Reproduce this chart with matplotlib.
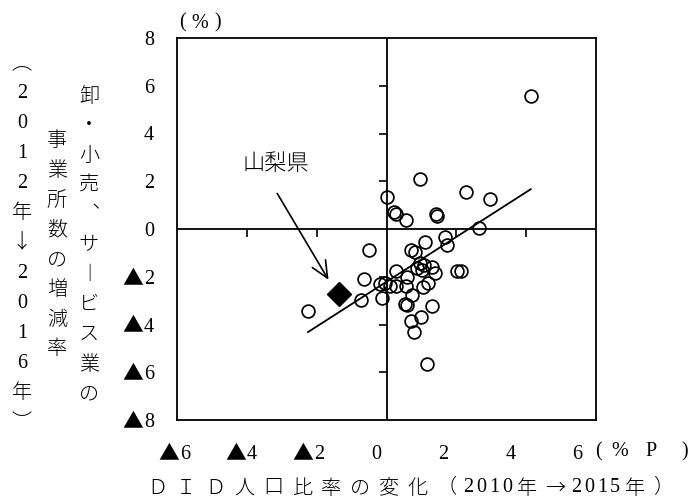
import numpy as np
import matplotlib
matplotlib.use("Agg")
import matplotlib.pyplot as plt
import matplotlib.transforms as mtrans

# ---------------- data ----------------
did_change = [0.96, 2.28, 2.95, 0.00, 0.21, 0.26, 0.56, 1.42, 1.45, 2.65, 4.13,
              -2.25, -0.50, -0.65, -0.74, -0.14, -0.20, -0.03, 0.10, 0.28, 0.27, 0.60, 0.72,
              0.69, 0.83, 1.10, 1.67, 1.72, 0.97, 1.07, 0.88, 1.02, 1.31, 1.40, 2.02, 2.12,
              1.05, 1.18, 0.54, 0.59, 1.30, 0.99, 0.69, 0.78, 1.17, 0.55]
estab_change = [2.08, 1.56, 1.24, 1.33, 0.72, 0.61, 0.38, 0.61, 0.54, 0.03, 5.56,
                -3.42, -0.88, -2.08, -2.97, -2.88, -2.30, -2.26, -2.39, -2.38, -1.75, -2.02, -2.75,
                -0.90, -0.97, -0.54, -0.32, -0.65, -1.44, -1.51, -1.65, -1.72, -1.58, -1.83, -1.74, -1.74,
                -2.42, -2.25, -3.14, -3.18, -3.22, -3.67, -3.85, -4.30, -5.66, -2.38]
yamanashi_x = [-1.35]
yamanashi_y = [-2.72]

x_tick_values = [-6, -4, -2, 0, 2, 4, 6]
y_tick_values = [-8, -6, -4, -2, 0, 2, 4, 6, 8]
inner_y_ticks = [-6, -4, -2, 2, 4, 6]
inner_x_ticks = [-4, -2, 2, 4]

# ---------------- figure ----------------
W, H = 697, 501
fig = plt.figure(figsize=(W / 100, H / 100), dpi=100)
ax = fig.add_axes([177 / W, 81 / H, 419 / W, 382 / H])
ax.set_xlim(-6, 6)
ax.set_ylim(-8, 8)
ax.set_xticks([])
ax.set_yticks([])

SERIF = ["Liberation Serif", "Noto Sans CJK JP", "DejaVu Sans"]
CJK = ["Noto Sans CJK JP", "DejaVu Sans"]
FS = 14.5
CJK_W = "light"

for s in ax.spines.values():
    s.set_linewidth(1.3)
    s.set_color("black")

ax.axhline(0, color="black", lw=1.3, zorder=1)
ax.axvline(0, color="black", lw=1.3, zorder=1)

# small tick marks on the inner cross
ax.plot(np.zeros(len(inner_y_ticks)), inner_y_ticks, ls="none", marker=0,
        ms=6, mew=1.2, color="black", zorder=1)
ax.plot(inner_x_ticks, np.zeros(len(inner_x_ticks)), ls="none", marker=3,
        ms=6, mew=1.2, color="black", zorder=1)

# regression line
xarr = np.array(did_change)
yarr = np.array(estab_change)
slope, intercept = np.polyfit(xarr, yarr, 1)
lx = np.array([xarr.min(), xarr.max()])
ax.plot(lx, slope * lx + intercept, color="black", lw=1.3, zorder=2)

# points
ax.plot(did_change, estab_change, ls="none", marker="o", ms=9.2, mfc="none",
        mec="black", mew=1.25, zorder=3)
ax.plot(yamanashi_x, yamanashi_y, ls="none", marker="D", ms=12, mfc="black",
        mec="black", zorder=4)

# annotation
ax.text(-3.17, 2.72, "山梨県", family=CJK, fontsize=16, weight=CJK_W,
        ha="center", va="center")
ax.annotate("", xy=(-1.66, -2.13), xytext=(-3.13, 1.49),
            arrowprops=dict(arrowstyle="->,head_length=0.55,head_width=0.25",
                            lw=1.2, color="black", mutation_scale=22,
                            shrinkA=0, shrinkB=0))

IDT = mtrans.IdentityTransform()
fig.canvas.draw()  # make sure transforms are settled


def disp_text(xd, yd, s, family, fs=FS, ha="center", va="center", weight="normal"):
    fig.text(xd, yd, s, transform=IDT, family=family, fontsize=fs,
             ha=ha, va=va, weight=weight)


def tick_label(v, xd, yc, mode):
    """Draw a tick label: negative values use a large ▲ before the digit."""
    digit = str(abs(v))
    base = yc - 7
    if mode == "y":
        disp_text(xd, base, digit, SERIF, ha="right", va="baseline")
        if v < 0:
            disp_text(xd - 11, base, "▲", CJK, fs=15, ha="right", va="baseline")
    else:
        if v < 0:
            split = xd + 4.5
            disp_text(split, base, digit, SERIF, ha="left", va="baseline")
            disp_text(split - 1, base, "▲", CJK, fs=15, ha="right", va="baseline")
        else:
            disp_text(xd, base, digit, SERIF, ha="center", va="baseline")


# y tick labels: right-aligned 23 px left of the frame
ax_left_disp = ax.transAxes.transform((0, 0))[0]
for v in y_tick_values:
    yc = ax.transData.transform((0, v))[1]
    tick_label(v, ax_left_disp - 23, yc, "y")

# x tick labels: spaced a little tighter than the ticks, as in the original
ax_bottom_disp = ax.transAxes.transform((0, 0))[1]
for v in x_tick_values:
    xc = ax.transData.transform((-0.287 + 0.96 * v, 0))[0]
    tick_label(v, xc, ax_bottom_disp - 32, "x")


def put(ch, xpx, ypx, family=SERIF, fs=FS):
    fig.text(xpx / W, 1 - ypx / H, ch, family=family, fontsize=fs,
             ha="center", va="center",
             weight=CJK_W if family is CJK else "normal")


# unit labels
for ch, xp in zip("(%)", [182, 200, 218]):
    put(ch, xp, 23)
for ch, xp in zip("(%P)", [598, 620, 651, 685]):
    put(ch, xp, 452)

# vertical y-axis title columns
col_left = ["︵", "2", "0", "1", "2", "年", "↓", "2", "0", "1", "6", "年", "︶"]
for i, ch in enumerate(col_left):
    put(ch, 22, 63 + 30 * i, family=CJK if ch in "︵︶年↓" else SERIF)
col_right = ["卸", "・", "小", "売", "︑", "サ", "︱", "ビ", "ス", "業", "の"]
for i, ch in enumerate(col_right):
    put(ch, 89, 96 + 29.8 * i, family=CJK)
col_mid = list("事業所数の増減率")
for i, ch in enumerate(col_mid):
    put(ch, 57, 141 + 29.7 * i, family=CJK)

# x-axis title, laid out with the original's wide letter spacing
xtitle = [("ＤＩＤ人口比率の変化（", 29), ("2010", 13), ("年→", 28),
          ("2015", 13), ("年）", 28)]
cx = 142.5
for seg, pitch in xtitle:
    for ch in seg:
        put(ch, cx + pitch / 2, 488, family=SERIF if ch.isascii() else CJK)
        cx += pitch

fig.savefig("out.png", dpi=100)
